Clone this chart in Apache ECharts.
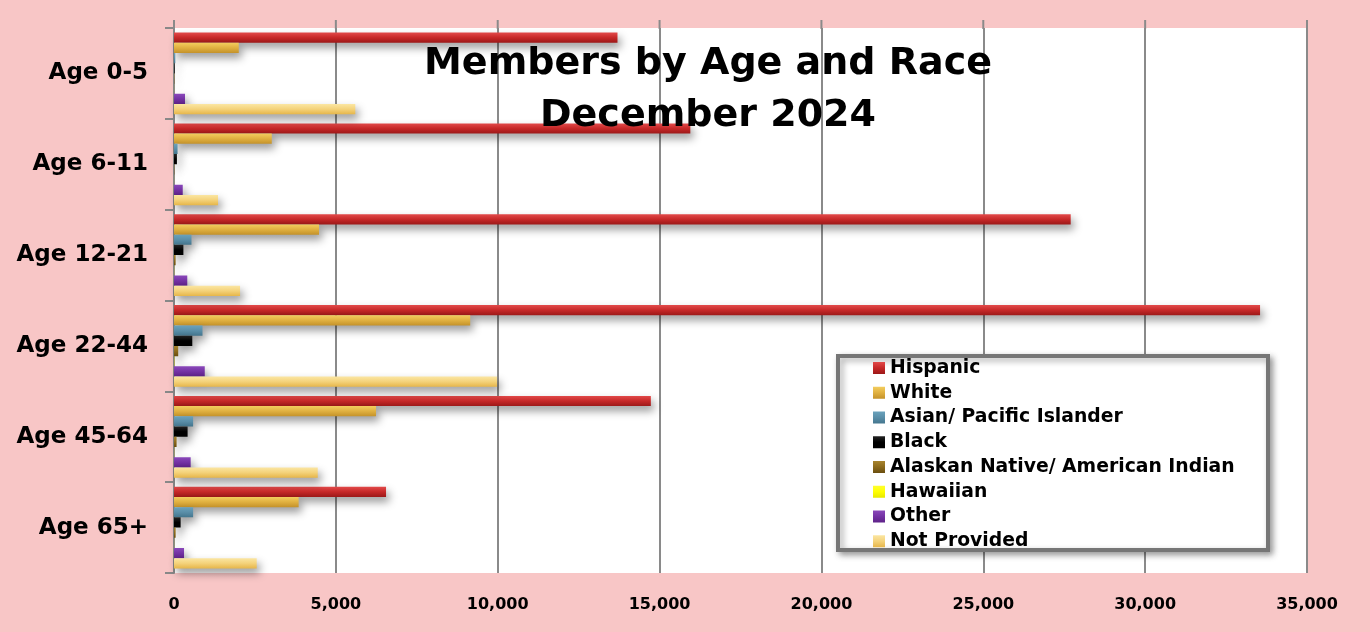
<!DOCTYPE html>
<html>
<head>
<meta charset="utf-8">
<script src="https://cdn.jsdelivr.net/npm/echarts@6/dist/echarts.min.js"></script>
<style>
html,body{margin:0;padding:0;background:#F8C6C6;}
#chart{width:1370px;height:632px;}
</style>
</head>
<body>
<div id="chart"></div>
<script>
const categories = ['Age 0-5', 'Age 6-11', 'Age 12-21', 'Age 22-44', 'Age 45-64', 'Age 65+'];
const seriesNames = ['Hispanic', 'White', 'Asian/ Pacific Islander', 'Black', 'Alaskan Native/ American Indian', 'Hawaiian', 'Other', 'Not Provided'];
const hispanic = [13700, 15950, 27700, 33550, 14730, 6550];
const white = [2000, 3020, 4480, 9150, 6240, 3850];
const asian = [40, 110, 540, 880, 590, 590];
const black = [20, 90, 290, 565, 420, 205];
const alaskan = [10, 10, 50, 130, 80, 50];
const hawaiian = [2, 2, 5, 10, 5, 3];
const other = [340, 270, 410, 950, 515, 310];
const notProvided = [5600, 1360, 2040, 9980, 4440, 2555];
const xTicks = [0, 5000, 10000, 15000, 20000, 25000, 30000, 35000];

const values = [hispanic, white, asian, black, alaskan, hawaiian, other, notProvided];
const gradients = [
  ['#E24A4A', '#C62828', '#9C1818'],
  ['#F3CD5E', '#E0B040', '#C4922A'],
  ['#6AA2BC', '#5A8EA8', '#44768E'],
  ['#222222', '#000000', '#000000'],
  ['#A8842E', '#8C6A1C', '#6A4E10'],
  ['#FFFF30', '#FFFF00', '#E8E800'],
  ['#8A48BA', '#7432A4', '#5E2288'],
  ['#FBE6A2', '#F4D27A', '#E6B64A']
];
function grad(c) {
  return new echarts.graphic.LinearGradient(0, 0, 0, 1, [
    {offset: 0, color: c[0]}, {offset: 0.5, color: c[1]}, {offset: 1, color: c[2]}
  ]);
}
const FONT = '"DejaVu Sans", sans-serif';
const GRID_TOP = 28;

const chart = echarts.init(document.getElementById('chart'));
chart.setOption({
  backgroundColor: '#F8C6C6',
  animation: false,
  grid: {left: 174, right: 63, top: GRID_TOP, bottom: 59, show: true, backgroundColor: '#ffffff', borderWidth: 0, containLabel: false},
  title: {
    text: 'Members by Age and Race\nDecember 2024',
    left: 703, top: 33, textAlign: 'center',
    textStyle: {fontFamily: FONT, fontWeight: 'bold', fontSize: 38, lineHeight: 52, color: '#000'}
  },
  legend: {
    orient: 'vertical', left: 873, top: 358, z: 20, padding: 0,
    itemWidth: 12, itemHeight: 12, itemGap: 4.75, icon: 'rect',
    textStyle: {fontFamily: FONT, fontWeight: 'bold', fontSize: 18.8, lineHeight: 20, color: '#000'},
    data: seriesNames
  },
  xAxis: {
    type: 'value', min: 0, max: 35000, interval: 5000,
    axisLine: {show: false}, axisTick: {show: false},
    splitLine: {show: true, lineStyle: {color: '#8a8a8a', width: 2}},
    axisLabel: {margin: 24, fontFamily: FONT, fontWeight: 'bold', fontSize: 16, color: '#000',
      formatter: v => v.toLocaleString('en-US')}
  },
  yAxis: {
    type: 'category', data: categories, inverse: true,
    axisLine: {show: true, lineStyle: {color: '#888', width: 2}},
    axisTick: {show: true, length: 9, lineStyle: {color: '#888', width: 2}},
    axisLabel: {margin: 26, fontFamily: FONT, fontWeight: 'bold', fontSize: 23, color: '#000'}
  },
  series: seriesNames.map((n, i) => ({
    name: n, type: 'bar', data: values[i],
    barGap: '0%', barCategoryGap: '10%',
    itemStyle: {color: grad(gradients[i]), shadowColor: 'rgba(0,0,0,0.4)', shadowBlur: 8, shadowOffsetX: 3, shadowOffsetY: 5}
  }))
});

// gridline stubs above the plot area and legend box
const stubs = xTicks.map(t => {
  let x = chart.convertToPixel({xAxisIndex: 0}, t);
  if (Array.isArray(x)) x = x[0];
  return {type: 'line', z: 100, silent: true, shape: {x1: x, y1: GRID_TOP - 8, x2: x, y2: GRID_TOP + 1}, style: {stroke: '#8a8a8a', lineWidth: 2}};
});
chart.setOption({
  graphic: {elements: [
    {type: 'rect', z: 15, shape: {x: 838, y: 356, width: 430, height: 194},
     style: {fill: '#fff', stroke: '#767676', lineWidth: 4, shadowBlur: 6, shadowOffsetX: 3, shadowOffsetY: 3, shadowColor: 'rgba(0,0,0,0.35)'}}
  ].concat(stubs)}
});
</script>
</body>
</html>
